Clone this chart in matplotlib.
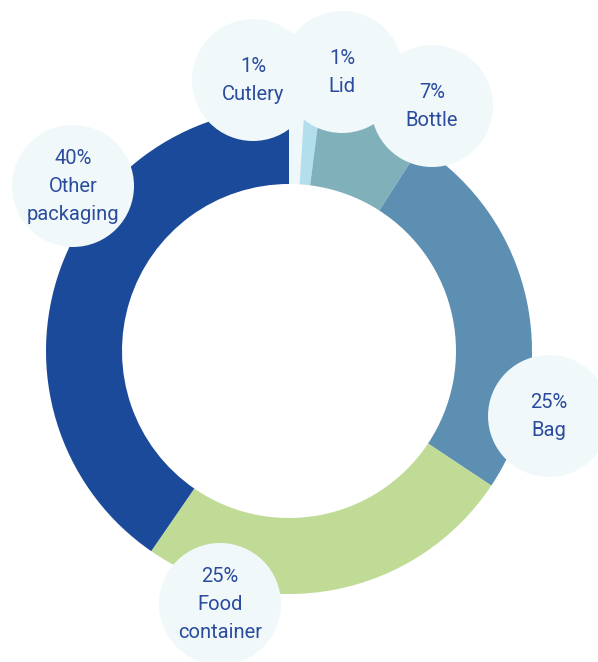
import matplotlib.pyplot as plt
from matplotlib.patches import Circle

# Share of waste by item
items = ['Cutlery', 'Lid', 'Bottle', 'Bag', 'Food\ncontainer', 'Other\npackaging']
shares = [1, 1, 7, 25, 25, 40]
colors = ['#EEF7FA', '#B3DEEC', '#80B1BB', '#5D8FB3', '#C0DB96', '#1B4A9A']

# label bubble positions (pixel coords, y down)
bubble_x = [253, 342, 432, 549, 220, 73]
bubble_y = [80, 72, 106, 416, 604, 186]

W, H = 598, 662
fig = plt.figure(figsize=(W / 100, H / 100), dpi=100)
ax = fig.add_axes([0, 0, 1, 1])

cx, cy = 289, 351
r_out, r_in = 243, 167

ax.pie(shares, colors=colors, startangle=90, counterclock=False,
       center=(cx, H - cy), radius=r_out,
       wedgeprops=dict(width=r_out - r_in, linewidth=0))

text_color = '#2A4B9E'
for name, val, bx, by in zip(items, shares, bubble_x, bubble_y):
    ax.add_patch(Circle((bx, H - by), 61, facecolor='#F0F8F9',
                        edgecolor='none', zorder=3))
    ax.text(bx, H - by, f'{val}%\n{name}', ha='center', va='center',
            color=text_color, fontsize=14.5, linespacing=1.6,
            family=['Roboto', 'DejaVu Sans'], zorder=4)

ax.set_xlim(0, W)
ax.set_ylim(0, H)
ax.set_aspect('equal')
ax.axis('off')

fig.savefig('out.png', dpi=100, facecolor='white')
